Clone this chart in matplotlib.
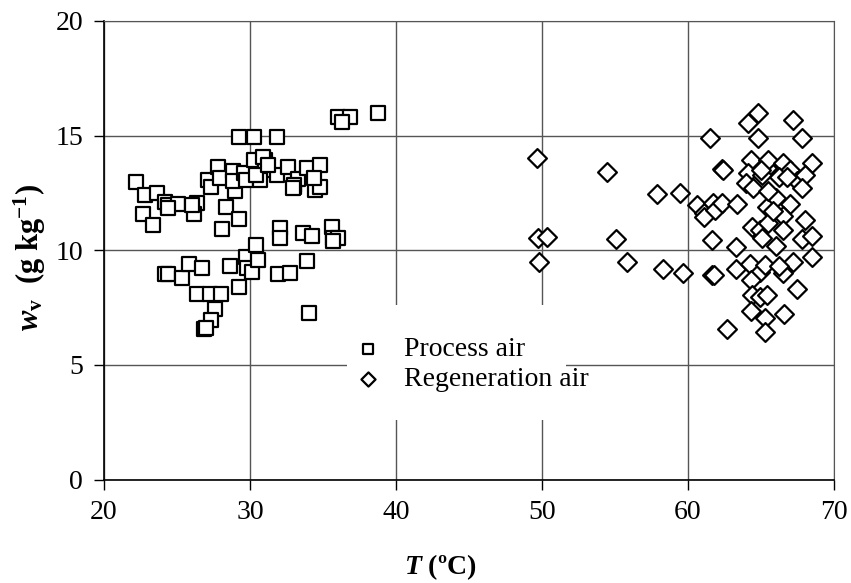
import numpy as np
import matplotlib.pyplot as plt
from matplotlib.patches import Rectangle

plt.rcParams['font.family'] = ['Liberation Serif', 'DejaVu Serif']
plt.rcParams['mathtext.fontset'] = 'custom'
plt.rcParams['mathtext.rm'] = 'Liberation Serif'
plt.rcParams['mathtext.it'] = 'Liberation Serif:italic'
plt.rcParams['mathtext.bf'] = 'Liberation Serif:bold'
plt.rcParams['mathtext.bfit'] = 'Liberation Serif:italic:bold'

# process air: temperature (C) and humidity ratio (g/kg)
process_T = [22.19, 22.81, 23.61, 22.69, 23.33, 24.18, 24.36, 25.09, 24.38, 26.35,
             26.19, 26.0, 27.1, 27.33, 27.83, 27.95, 28.36, 28.97, 29.27, 28.1,
             28.86, 28.86, 29.59, 29.70, 29.27, 30.27, 30.27,
             24.18, 24.35, 25.32, 25.82, 26.73, 26.35, 27.26, 27.99, 27.6, 27.33,
             26.87, 27.0, 28.63, 29.27, 29.70, 29.82, 30.12, 30.41,
             36.0, 36.85, 36.3, 38.79, 31.83, 31.03, 31.03, 30.68, 31.83, 32.62,
             33.03, 33.27, 33.88, 34.45, 34.79, 34.79, 34.40, 33.0, 32.05, 32.05,
             33.65, 34.27, 35.59, 35.71, 36.05, 35.71, 30.57, 31.94, 32.74, 33.92,
             34.04, 30.9, 30.4, 31.2, 32.97]
process_w = [12.99, 12.41, 12.51, 11.58, 11.10, 12.12, 11.98, 12.01, 11.85, 12.08,
             11.58, 11.98, 13.07, 12.75, 13.62, 13.17, 11.90, 12.59, 11.35, 10.93,
             13.47, 13.04, 13.39, 13.07, 14.96, 14.96, 13.94,
             8.97, 8.95, 8.81, 9.39, 9.21, 8.08, 8.08, 8.08, 7.43, 6.96,
             6.55, 6.62, 9.32, 8.41, 9.72, 9.21, 9.07, 10.23,
             15.80, 15.80, 15.6, 15.98, 14.96, 13.94, 13.5, 13.07, 13.29, 13.65,
             12.78, 13.10, 13.58, 12.63, 13.72, 12.75, 13.14, 12.85, 10.96, 10.52,
             10.77, 10.62, 11.03, 10.52, 10.52, 10.4, 9.58, 8.97, 9.02, 9.55,
             7.25, 14.08, 13.3, 13.7, 12.7]

# regeneration air
regen_T = [49.68, 49.75, 50.36, 49.82, 54.42, 55.07, 55.84, 57.85, 59.45, 58.31,
           59.68, 61.51, 64.82, 64.13, 64.82, 62.3, 62.4, 60.59, 61.1, 61.12,
           61.73, 61.85, 62.3, 63.33, 61.62, 63.3, 61.64, 61.8, 63.3, 62.7,
           64.32, 64.13, 65.39, 64.0, 64.47, 65.04, 65.5, 65.39, 64.36, 64.93,
           65.04, 65.5, 64.25, 64.93, 65.27, 64.32, 64.36, 64.93, 65.39, 64.32,
           65.27, 65.27,
           67.2, 67.8, 66.5, 67.0, 66.2, 67.5, 68.5, 68.0, 67.8, 67.0,
           66.0, 66.5, 68.0, 67.8, 68.5, 68.5, 67.2, 66.5, 67.5, 66.6,
           66.2, 66.0, 66.5, 65.8, 65.5, 66.8, 65.0]
regen_w = [14.01, 10.52, 10.59, 9.48, 13.43, 10.48, 9.5, 12.45, 12.49, 9.17,
           9.0, 14.91, 15.98, 15.57, 14.91, 13.55, 13.5, 11.98, 11.61, 11.47,
           12.06, 11.75, 12.05, 12.03, 10.43, 10.16, 8.92, 8.9, 9.17, 6.55,
           13.94, 13.36, 13.58, 12.92, 12.7, 13.29, 13.94, 11.9, 11.03, 10.88,
           10.52, 11.18, 9.4, 9.07, 9.36, 8.70, 8.05, 7.98, 8.05, 7.37,
           7.03, 6.45,
           15.7, 14.9, 13.8, 13.5, 13.2, 13.0, 13.8, 13.3, 12.7, 12.0,
           12.3, 11.5, 11.3, 10.5, 10.6, 9.7, 9.5, 9.0, 8.3, 7.2,
           9.3, 10.2, 10.9, 11.7, 12.6, 13.2, 13.5]

fig = plt.figure(figsize=(8.51, 5.83), dpi=100)
ax = fig.add_axes([0.1222, 0.1775, 0.8578, 0.7865])

ax.scatter(process_T, process_w, marker='s', s=92, facecolors='white',
           edgecolors='black', linewidths=1.6, zorder=3, label='Process air')
ax.scatter(regen_T, regen_w, marker='D', s=92, facecolors='white',
           edgecolors='black', linewidths=1.6, zorder=3, label='Regeneration air')

ax.set_xlim(20, 70)
ax.set_ylim(0, 20)
ax.set_xticks(np.arange(20, 71, 10))
ax.set_yticks(np.arange(0, 21, 5))
ax.grid(True, color='#555555', linewidth=1.0)
ax.set_axisbelow(True)
for side in ['top', 'right']:
    ax.spines[side].set_color('#555555')
for side in ['left', 'bottom']:
    ax.spines[side].set_linewidth(1.2)
ax.tick_params(direction='out', length=7, width=1, labelsize=20, pad=8)

# white box behind the legend hides the gridlines
ax.add_patch(Rectangle((0.333, 0.13), 0.30, 0.25, transform=ax.transAxes,
                       facecolor='white', edgecolor='none', zorder=1))
leg = ax.legend(loc='upper left', bbox_to_anchor=(0.3466, 0.312), frameon=False,
                fontsize=20, handlelength=0.8, handletextpad=0.9, borderpad=0,
                borderaxespad=0, labelspacing=0.18, markerscale=0.75)

ax.set_xlabel(r'$\mathbfit{T}$ (ºC)', fontsize=20, fontweight='bold')
ax.xaxis.set_label_coords(0.46, -0.158)
ax.set_ylabel(r'$\mathbfit{w}_{\mathbf{v}}$  (g kg$^{\mathbf{-1}}$)', fontsize=22,
              fontweight='bold')
ax.yaxis.set_label_coords(-0.077, 0.485)

fig.savefig('out.png', dpi=100)
